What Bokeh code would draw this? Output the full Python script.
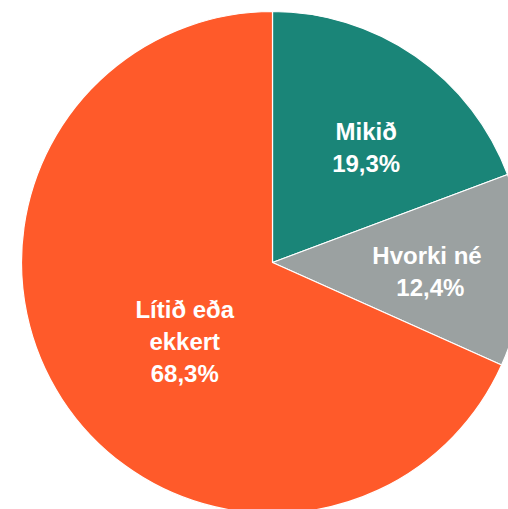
import math
from bokeh.plotting import figure
from bokeh.models import ColumnDataSource, Range1d
from bokeh.core.properties import value
from bokeh.embed import file_html
from bokeh.resources import INLINE

# Data
categories = ["Mikið", "Hvorki né", "Lítið eða ekkert"]
shares = [19.3, 12.4, 68.3]
label_texts = ["Mikið\n19,3%", "Hvorki  né\n12,4%", "Lítið eða\nekkert\n68,3%"]
colors = ["#1A8578", "#9BA1A1", "#FF5A2A"]

# Style: label placement (radius fraction, angular nudge in degrees)
label_r = [0.59, 0.63, 0.47]
label_nudge = [-4.5, -1.6, 9.0]

PX = 251.0  # pixels per data unit
cx_px, cy_px = 272.0, 262.0
W, H = 508, 509

total = sum(shares)
starts, ends, lx, ly = [], [], [], []
ang = math.pi / 2
for s, r, nd in zip(shares, label_r, label_nudge):
    sweep = 2 * math.pi * s / total
    starts.append(ang)
    ends.append(ang - sweep)
    mid = ang - sweep / 2 + math.radians(nd)
    lx.append(r * math.cos(mid))
    ly.append(r * math.sin(mid))
    ang -= sweep

src = ColumnDataSource(dict(cat=categories, start=starts, end=ends, color=colors,
                            lx=lx, ly=ly, label=label_texts))

x0 = (0 - cx_px) / PX
x_range = Range1d(x0, x0 + W / PX)
y1 = (cy_px - 0) / PX
y_range = Range1d(y1 - H / PX, y1)

p = figure(width=W, height=H, x_range=x_range, y_range=y_range,
           output_backend="svg", toolbar_location=None, min_border=0)
p.axis.visible = False
p.grid.visible = False
p.outline_line_color = None
p.background_fill_color = "white"
p.border_fill_color = "white"

p.wedge(x=0, y=0, radius=1.0, start_angle="start", end_angle="end",
        direction="clock", fill_color="color", line_color="white", line_width=1.2,
        source=src)

p.text(x="lx", y="ly", text="label", source=src, text_color="white",
       text_font=value("Liberation Sans"), text_font_style="bold",
       text_font_size="24px", text_align="center", text_baseline="middle",
       text_line_height=1.18)

open("out.html", "w").write(file_html(p, INLINE))
